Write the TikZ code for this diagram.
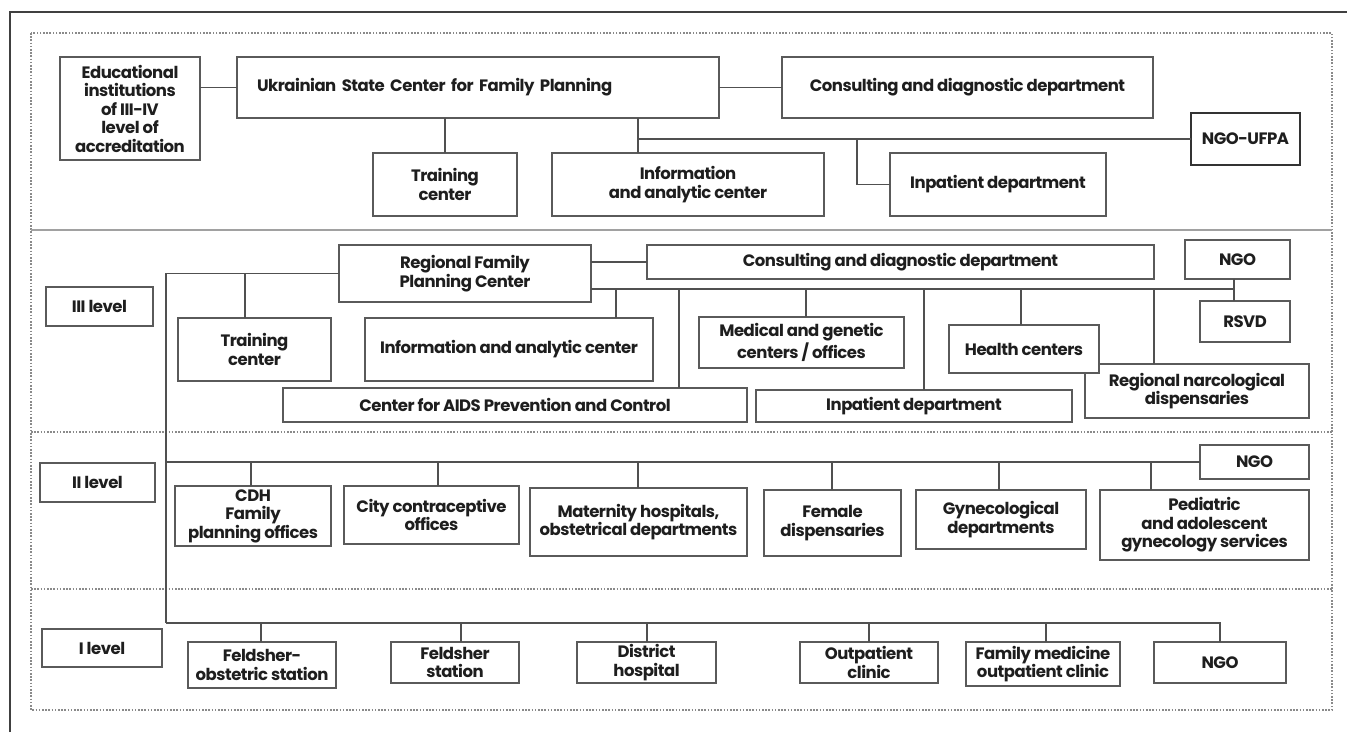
\documentclass[tikz,border=0pt]{standalone}
\usepackage{fontspec}
\newfontfamily\lab{Poppins}[LetterSpace=-3]
\definecolor{linecol}{HTML}{505050}
\definecolor{boxcol}{HTML}{5A5A5A}
\definecolor{txtcol}{HTML}{1E1E1E}
\definecolor{sepcol}{HTML}{8A8A8A}
\tikzset{
  box/.style={draw=boxcol, line width=1.4pt, fill=white, inner sep=1pt, outer sep=0pt,
    align=center, font=\lab\bfseries\fontsize{16.5}{18.5}\selectfont, text=txtcol},
  conn/.style={draw=linecol, line width=1.4pt},
  sepline/.style={draw=sepcol, line width=1.3pt, dash pattern=on 1.6pt off 1.6pt},
}
\newcommand\bx[7][]{\node[box, minimum width={(#5-#3)*1pt}, minimum height={(#6-#4)*1pt}, #1]
  (#2) at ({(#3+#5)/2},{(#4+#6)/2}) {#7};}
\begin{document}
\begin{tikzpicture}[x=1pt,y=-1pt]
\useasboundingbox (0,0) rectangle (1347,732);
\fill[white] (0,0) rectangle (1347,732);
% outer frame
\draw[line width=1.5pt, black!75] (10,732) -- (10,12) -- (1347,12);
% section frames
\draw[sepline] (31,33) rectangle (1332,710);
\draw[draw=sepcol!80, line width=1.8pt] (31,230) -- (1332,230);
\draw[sepline] (31,432) -- (1332,432);
\draw[sepline] (31,589) -- (1332,589);

% ---------- top level ----------
\bx{edu}{60}{57}{200}{160}{Educational\\institutions\\of III-IV\\level of\\accreditation}
\bx[inner xsep=20pt, text width=442pt, align=left]{ukr}{237}{57}{719}{118}{Ukrainian State Center for Family Planning}
\bx{cdd}{782}{57}{1153}{118}{Consulting and diagnostic department}
\bx{trc}{373}{153}{517}{216}{Training\\center}
\bx{iac}{552}{153}{824}{216}{Information\\and analytic center}
\bx{inp}{890}{153}{1106}{216}{Inpatient department}
\bx[draw=black!80, line width=1.8pt]{ufpa}{1191}{113}{1300}{165}{NGO-UFPA}

\draw[conn] (edu.east |- ukr.west) -- (ukr.west);
\draw[conn] (ukr.east) -- (cdd.west);
\draw[conn] (trc.north |- ukr.south) -- (trc.north);
\draw[conn] (ukr.south -| 638,0) -- (iac.north -| 638,0);
\draw[conn] (ufpa.west -| 638,0) -- (ufpa.west);
\draw[conn] (ufpa.west -| 857,0) |- (inp.west);

% ---------- III level ----------
\bx{l3}{46}{287}{153}{326}{III level}
\bx{rfpc}{339}{245}{591}{302}{Regional Family\\Planning Center}
\bx{cdd3}{647}{245}{1154}{279}{Consulting and diagnostic department}
\bx{trc3}{178}{318}{331}{381}{Training\\center}
\bx{iac3}{365}{318}{653}{381}{Information and analytic center}
\bx{aids}{283}{388}{747}{422}{Center for AIDS Prevention and Control}
\bx{mgc}{699}{317}{904}{368}{Medical and genetic\\centers / offices}
\bx{inp3}{756}{390}{1072}{422}{Inpatient department}
\bx{narc}{1085}{364}{1309}{418}{Regional narcological\\dispensaries}
\bx{hc}{949}{325}{1099}{373}{Health centers}
\bx{ngo3}{1185}{240}{1290}{279}{NGO}
\bx{rsvd}{1200}{301}{1290}{342}{RSVD}

\coordinate (spineB) at (166,623);
\coordinate (rEnd) at (1234,289);
\draw[conn] (rfpc.east |- cdd3.west) -- (cdd3.west);
\draw[conn] (rfpc.west) -| (spineB);
\draw[conn] (rfpc.west -| 245,0) -- (trc3.north -| 245,0);
\draw[conn] (rfpc.east |- rEnd) -- (rEnd);
\draw[conn] (ngo3.south -| rEnd) -- (rsvd.north -| rEnd);
\draw[conn] (rEnd -| 616,0) -- (iac3.north -| 616,0);
\draw[conn] (rEnd -| 679,0) -- (aids.north -| 679,0);
\draw[conn] (rEnd -| 806,0) -- (mgc.north -| 806,0);
\draw[conn] (rEnd -| 924,0) -- (inp3.north -| 924,0);
\draw[conn] (rEnd -| 1021,0) -- (hc.north -| 1021,0);
\draw[conn] (rEnd -| 1154,0) -- (narc.north -| 1154,0);

% ---------- II level ----------
\bx{l2}{40}{463}{155}{502}{II level}
\bx{ngo2}{1200}{445}{1309}{479}{NGO}
\bx{cdh}{175}{486}{331}{546}{CDH\\Family\\planning offices}
\bx{city}{344}{486}{519}{544}{City contraceptive\\offices}
\bx{mat}{530}{488}{747}{556}{Maternity hospitals,\\obstetrical departments}
\bx{fem}{764}{490}{901}{556}{Female\\dispensaries}
\bx{gyn}{916}{490}{1086}{549}{Gynecological\\departments}
\bx{ped}{1100}{490}{1309}{560}{Pediatric\\and adolescent\\gynecology services}

\coordinate (t2) at (166,462);
\draw[conn] (t2) -- (ngo2.west);
\draw[conn] (t2 -| 251,0) -- (cdh.north -| 251,0);
\draw[conn] (t2 -| 438,0) -- (city.north -| 438,0);
\draw[conn] (t2 -| 638,0) -- (mat.north -| 638,0);
\draw[conn] (t2 -| 832,0) -- (fem.north -| 832,0);
\draw[conn] (t2 -| 999,0) -- (gyn.north -| 999,0);
\draw[conn] (t2 -| 1151,0) -- (ped.north -| 1151,0);

% ---------- I level ----------
\bx{l1}{42}{629}{162}{667}{I level}
\bx{fos}{188}{642}{336}{688}{Feldsher-\\obstetric station}
\bx{fs}{391}{642}{519}{683}{Feldsher\\station}
\bx{dh}{577}{642}{716}{683}{District\\hospital}
\bx{oc}{800}{642}{938}{683}{Outpatient\\clinic}
\bx{fmc}{966}{642}{1120}{686}{Family medicine\\outpatient clinic}
\bx{ngo1}{1154}{642}{1286}{683}{NGO}

\draw[conn] (spineB) -| (ngo1.north);
\draw[conn] (spineB -| 261,0) -- (fos.north -| 261,0);
\draw[conn] (spineB -| 461,0) -- (fs.north -| 461,0);
\draw[conn] (spineB -| 647,0) -- (dh.north -| 647,0);
\draw[conn] (spineB -| 869,0) -- (oc.north -| 869,0);
\draw[conn] (spineB -| 1046,0) -- (fmc.north -| 1046,0);
\end{tikzpicture}
\end{document}
